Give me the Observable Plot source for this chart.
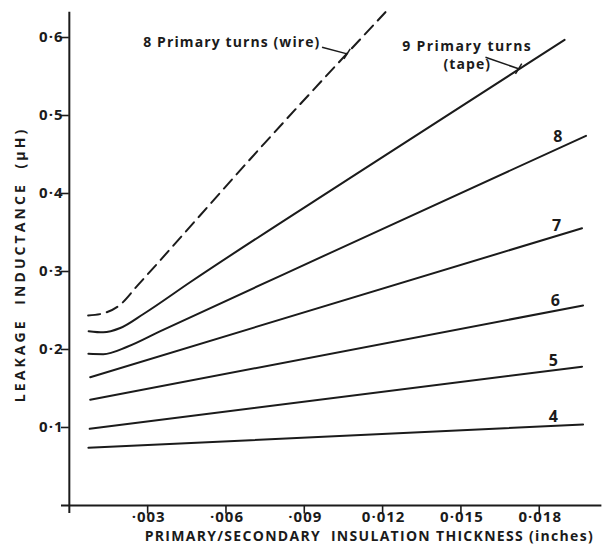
<!DOCTYPE html>
<html><head><meta charset="utf-8">
<script src="https://cdn.jsdelivr.net/npm/d3@7"></script>
<script src="https://cdn.jsdelivr.net/npm/@observablehq/plot@0.6"></script>
<style>
body{margin:0;background:#fff;}
#chart svg{display:block;}
</style></head><body><div id="chart"></div>
<script>
// Tick values and labels
const xTicks = [0.003, 0.006, 0.009, 0.012, 0.015, 0.018];
const xTickLabels = ["·003", "·006", "·009", "0·012", "0·015", "0·018"];
const yTicks = [0.1, 0.2, 0.3, 0.4, 0.5, 0.6];
const yTickLabels = ["0·1", "0·2", "0·3", "0·4", "0·5", "0·6"];

// Insulation thickness (inches) and leakage inductance (µH) per curve
const thick4 = [0.00073, 0.01968];
const ind4 = [0.074, 0.1038];
const thick5 = [0.00078, 0.01964];
const ind5 = [0.0983, 0.178];
const thick6 = [0.0008, 0.01968];
const ind6 = [0.1355, 0.2564];
const thick7 = [0.0008, 0.01964];
const ind7 = [0.1645, 0.3555];
const thick8 = [0.00073, 0.0013, 0.00222, 0.00349, 0.010, 0.01979];
const ind8 = [0.1945, 0.194, 0.2035, 0.2235, 0.3239, 0.474];
const thick9Tape = [0.00074, 0.0013, 0.00195, 0.00284, 0.00464, 0.011, 0.01897];
const ind9Tape = [0.2235, 0.222, 0.2275, 0.2455, 0.2865, 0.4252, 0.597];
const thick8Wire = [0.00072, 0.00135, 0.00195, 0.0026, 0.0075, 0.01211];
const ind8Wire = [0.2436, 0.2468, 0.2575, 0.2815, 0.4653, 0.6325];

// Curve end labels
const curveLabels = ["8", "7", "6", "5", "4"];
const curveLabelX = [0.01871, 0.01866, 0.01862, 0.01854, 0.01854];
const curveLabelY = [0.4722, 0.359, 0.2628, 0.1859, 0.1132];

const xTitle = "PRIMARY/SECONDARY  INSULATION THICKNESS (inches)";
const yTitle = "LEAKAGE  INDUCTANCE  (μH)";
const wireNote = "8 Primary turns (wire)";
const tapeNote1 = "9 Primary turns";
const tapeNote2 = "(tape)";

const solidSeries = [
  {name: "4", x: thick4, y: ind4},
  {name: "5", x: thick5, y: ind5},
  {name: "6", x: thick6, y: ind6},
  {name: "7", x: thick7, y: ind7},
  {name: "8", x: thick8, y: ind8},
  {name: "9 tape", x: thick9Tape, y: ind9Tape}
];
const solidRows = solidSeries.flatMap(s => s.x.map((x, i) => ({series: s.name, x, y: s.y[i]})));
const wireRows = thick8Wire.map((x, i) => ({x, y: ind8Wire[i]}));
const xTickRows = xTicks.map((v, i) => ({v, label: xTickLabels[i]}));
const yTickRows = yTicks.map((v, i) => ({v, label: yTickLabels[i]}));
const curveLabelRows = curveLabels.map((t, i) => ({t, x: curveLabelX[i], y: curveLabelY[i]}));

const ink = "#1b1b1b";
const font = "'Open Sans', sans-serif";

const chart = Plot.plot({
  width: 612, height: 554,
  marginLeft: 61, marginRight: 8, marginTop: 10.5, marginBottom: 41,
  x: {domain: [-0.0003, 0.0205], axis: null},
  y: {domain: [-0.0103, 0.634], axis: null},
  style: {fontFamily: font, background: "#fff", overflow: "visible", color: ink},
  marks: [
    // axes
    Plot.ruleX([0], {y1: -0.0103, y2: 0.6325, stroke: ink, strokeWidth: 2}),
    Plot.ruleY([0], {x1: -0.0003, x2: 0.0204, stroke: ink, strokeWidth: 2}),
    Plot.ruleY(yTickRows, {y: "v", x1: -0.0003, x2: 0, stroke: ink, strokeWidth: 1.6}),
    Plot.ruleX(xTickRows, {x: "v", y1: 0, y2: -0.011, stroke: ink, strokeWidth: 1.6}),
    Plot.text(yTickRows, {y: "v", x: -0.0003, text: "label", textAnchor: "end", dx: 2, fontSize: 15, fontWeight: 700, fill: ink}),
    Plot.text(xTickRows, {x: "v", y: 0, text: "label", dy: 12, dx: 1, fontSize: 15, fontWeight: 700, fill: ink}),
    Plot.text([xTitle], {x: 0.01149, y: 0, dy: 31, text: d => d, fontSize: 14, fontWeight: 700, fill: ink}),
    Plot.text([yTitle], {x: -0.00188, y: 0.309, rotate: -90, text: d => d, fontSize: 14, fontWeight: 700, fill: ink}),
    // curves
    Plot.line(solidRows, {x: "x", y: "y", z: "series", curve: "monotone-x", stroke: ink, strokeWidth: 2}),
    Plot.line(wireRows, {x: "x", y: "y", curve: "monotone-x", stroke: ink, strokeWidth: 2, strokeDasharray: "12,7"}),
    // curve labels
    Plot.text(curveLabelRows, {x: "x", y: "y", text: "t", fontSize: 16, fontWeight: 700, fill: ink}),
    // annotations
    Plot.text([wireNote], {x: 0.00962, y: 0.594, text: d => d, textAnchor: "end", fontSize: 14, fontWeight: 700, fill: ink}),
    Plot.link([0], {x1: 0.00968, y1: 0.5876, x2: 0.01064, y2: 0.579, stroke: ink, strokeWidth: 1.5}),
    Plot.link([0], {x1: 0.01052, y1: 0.5725, x2: 0.01076, y2: 0.5855, stroke: ink, strokeWidth: 1.5}),
    Plot.text([tapeNote1], {x: 0.01275, y: 0.589, text: d => d, textAnchor: "start", fontSize: 14, fontWeight: 700, fill: ink}),
    Plot.text([tapeNote2], {x: 0.01433, y: 0.5655, text: d => d, textAnchor: "start", fontSize: 14, fontWeight: 700, fill: ink}),
    Plot.link([0], {x1: 0.01594, y1: 0.5747, x2: 0.01721, y2: 0.5599, stroke: ink, strokeWidth: 1.5}),
    Plot.link([0], {x1: 0.01709, y1: 0.5535, x2: 0.01733, y2: 0.5665, stroke: ink, strokeWidth: 1.5})
  ]
});

// letter spacing to mimic the wide lettering of the original
const spacing = new Map([
  [xTitle, "1.3px"], [yTitle, "3.1px"],
  [wireNote, "1.1px"], [tapeNote1, "1.4px"], [tapeNote2, "1.1px"]
]);
[...xTickLabels, ...yTickLabels].forEach(t => spacing.set(t, "1px"));
d3.select(chart).selectAll("text").each(function() {
  const s = spacing.get(this.textContent);
  if (s) this.style.letterSpacing = s;
});
document.getElementById("chart").appendChild(chart);
</script></body></html>
